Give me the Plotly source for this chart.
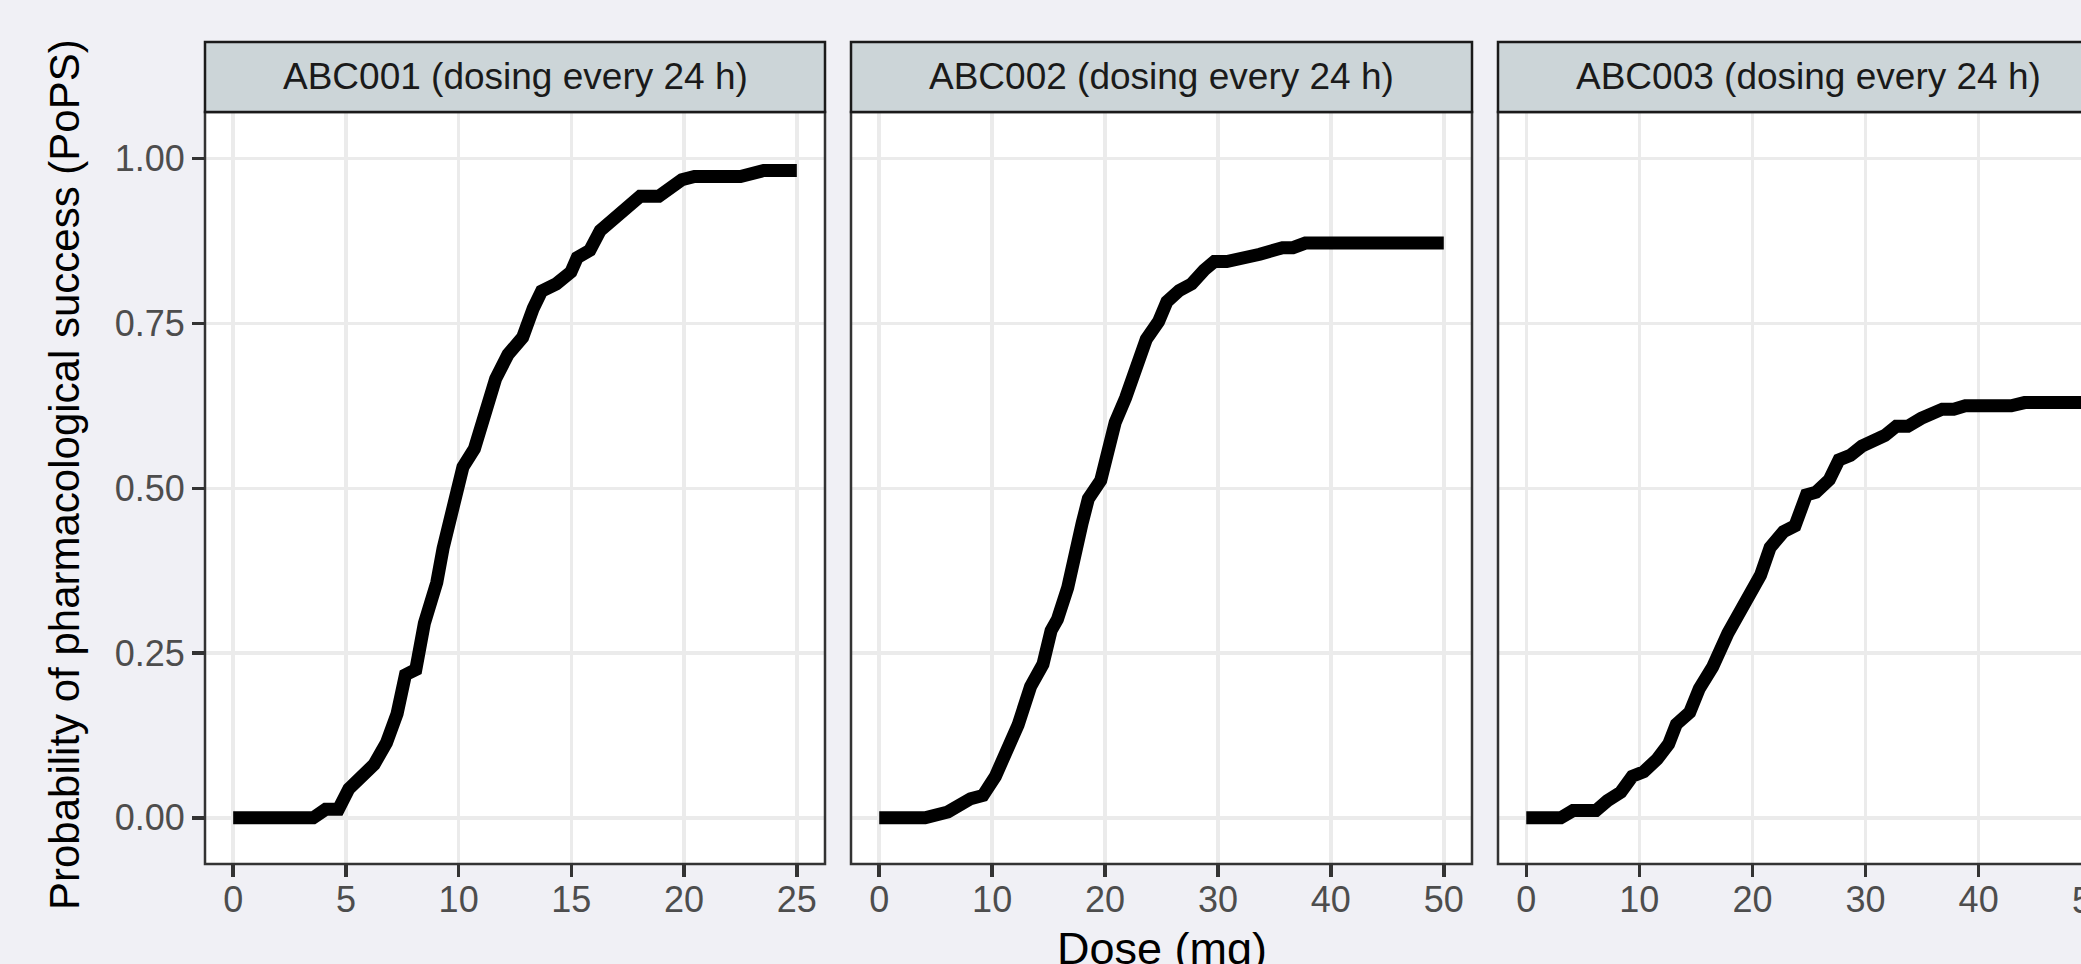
import plotly.graph_objects as go

# ------------------------------------------------------------------ data
panel_titles = [
    "ABC001 (dosing every 24 h)",
    "ABC002 (dosing every 24 h)",
    "ABC003 (dosing every 24 h)",
]

dose_abc001 = [0, 3.55, 4.1, 4.67, 5.13, 5.87, 6.25, 6.8, 7.27, 7.64, 8.1, 8.48,
               9.03, 9.31, 9.78, 10.19, 10.7, 11.17, 11.64, 12.19, 12.84, 13.31,
               13.68, 14.33, 14.98, 15.26, 15.82, 16.28, 16.84, 17.3, 17.86,
               18.05, 18.88, 19.35, 19.9, 20.46, 22.5, 23.53, 25.0]
pops_abc001 = [0, 0, 0.013, 0.013, 0.044, 0.066, 0.081, 0.114, 0.158, 0.217,
               0.225, 0.295, 0.357, 0.409, 0.471, 0.532, 0.56, 0.615, 0.666,
               0.703, 0.729, 0.773, 0.799, 0.81, 0.828, 0.85, 0.861, 0.891,
               0.907, 0.924, 0.935, 0.943, 0.943, 0.957, 0.968, 0.973, 0.973,
               0.982, 0.982]

dose_abc002 = [0, 4.06, 6.08, 8.09, 9.19, 10.29, 12.3, 13.4, 14.5, 15.22, 15.78,
               16.69, 17.97, 18.52, 19.62, 20.35, 20.9, 21.82, 23.65, 24.74,
               25.48, 26.57, 27.67, 28.77, 29.68, 30.78, 32.8, 33.71, 35.72,
               36.64, 37.74, 50]
pops_abc002 = [0, 0, 0.009, 0.029, 0.034, 0.063, 0.141, 0.199, 0.233, 0.284,
               0.301, 0.349, 0.447, 0.484, 0.512, 0.573, 0.6, 0.637, 0.726,
               0.753, 0.783, 0.8, 0.81, 0.831, 0.844, 0.844, 0.855, 0.855,
               0.865, 0.865, 0.872, 0.872]

dose_abc003 = [0, 3.05, 4.13, 6.16, 7.17, 8.36, 9.37, 10.39, 11.57, 12.59, 13.27,
               14.45, 15.3, 16.48, 17.83, 19.7, 20.71, 21.56, 22.74, 23.76,
               24.77, 25.62, 26.8, 27.65, 28.66, 29.68, 30.69, 31.71, 32.72,
               33.74, 34.92, 35.77, 36.79, 37.8, 38.82, 42.88, 44.06, 50]
pops_abc003 = [0, 0, 0.011, 0.011, 0.026, 0.039, 0.063, 0.07, 0.089, 0.112,
               0.142, 0.16, 0.196, 0.229, 0.28, 0.34, 0.368, 0.41, 0.434, 0.443,
               0.49, 0.494, 0.513, 0.543, 0.55, 0.564, 0.571, 0.58, 0.594,
               0.594, 0.606, 0.613, 0.62, 0.62, 0.625, 0.625, 0.63, 0.63]

x_ticks_abc001 = [0, 5, 10, 15, 20, 25]
x_ticks_abc002 = [0, 10, 20, 30, 40, 50]
x_ticks_abc003 = [0, 10, 20, 30, 40, 50]
y_ticks = [0.0, 0.25, 0.5, 0.75, 1.0]
y_tick_labels = ["0.00", "0.25", "0.50", "0.75", "1.00"]

x_title = "Dose (mg)"
y_title = "Probability of pharmacological success (PoPS)"

# ------------------------------------------------------------------ layout
W, H = 2081, 964
FONT = "Liberation Sans, Arial, Helvetica, sans-serif"
BG = "#F0F0F5"
STRIP_FILL = "#CCD5D8"
BORDER = "#333333"
GRID = "#EBEBEB"

panel_px_x = [(205, 825), (851, 1472), (1498, 2120)]   # full panel extents (px)
panel_px_y = (112, 864)
strip_px_y = (42, 112)
full_ranges = [(-1.25, 26.25), (-2.5, 52.5), (-2.5, 52.5)]
y_range = (-0.07, 1.0708)

doses = [dose_abc001, dose_abc002, dose_abc003]
pops = [pops_abc001, pops_abc002, pops_abc003]
xticks = [x_ticks_abc001, x_ticks_abc002, x_ticks_abc003]

fig = go.Figure()
shapes, annotations = [], []

def py(px):
    return 1 - px / H

for i in range(3):
    n = "" if i == 0 else str(i + 1)
    x0, x1 = panel_px_x[i]
    r0, r1 = full_ranges[i]
    vis_x1 = min(x1, W)
    vis_r1 = r0 + (r1 - r0) * (vis_x1 - x0) / (x1 - x0)

    fig.add_trace(go.Scatter(
        x=doses[i], y=pops[i], mode="lines",
        line=dict(color="black", width=13),
        xaxis="x" + n, yaxis="y" + n, showlegend=False, hoverinfo="skip",
    ))

    fig.layout["xaxis" + n] = dict(
        domain=[x0 / W, vis_x1 / W], range=[r0, vis_r1], anchor="y" + n,
        tickmode="array", tickvals=xticks[i], ticktext=[str(v) for v in xticks[i]],
        ticks="outside", ticklen=12, tickwidth=3.5, tickcolor=BORDER,
        ticklabelstandoff=-8,
        showgrid=True, gridcolor=GRID, gridwidth=3.5, zeroline=False,
        showline=False, tickfont=dict(family=FONT, size=36, color="#4D4D4D"),
        fixedrange=True,
    )
    fig.layout["yaxis" + n] = dict(
        domain=[py(panel_px_y[1]), py(panel_px_y[0])], range=list(y_range),
        anchor="x" + n, tickmode="array", tickvals=y_ticks, ticktext=y_tick_labels,
        showticklabels=(i == 0), ticks="outside" if i == 0 else "",
        ticklen=12, tickwidth=3.5, tickcolor=BORDER,
        showgrid=True, gridcolor=GRID, gridwidth=3.5, zeroline=False,
        showline=False, tickfont=dict(family=FONT, size=36, color="#4D4D4D"),
        fixedrange=True,
    )

    # panel border
    shapes.append(dict(type="rect", xref="paper", yref="paper",
                       x0=x0 / W, x1=x1 / W, y0=py(panel_px_y[1]), y1=py(panel_px_y[0]),
                       line=dict(color=BORDER, width=2.5), fillcolor="rgba(0,0,0,0)",
                       layer="above"))
    # strip
    shapes.append(dict(type="rect", xref="paper", yref="paper",
                       x0=x0 / W, x1=x1 / W, y0=py(strip_px_y[1]), y1=py(strip_px_y[0]),
                       line=dict(color="#1A1A1A", width=2.5), fillcolor=STRIP_FILL,
                       layer="above"))
    annotations.append(dict(text=panel_titles[i], xref="paper", yref="paper",
                            x=(x0 + x1) / 2 / W, y=py(sum(strip_px_y) / 2),
                            xanchor="center", yanchor="middle", showarrow=False,
                            font=dict(family=FONT, size=37, color="#1A1A1A")))

    # tick labels that fall beyond the visible (cropped) region
    for v in xticks[i]:
        if v > vis_r1:
            xpx = x0 + (v - r0) / (r1 - r0) * (x1 - x0)
            annotations.append(dict(text=str(v), xref="paper", yref="paper",
                                    x=xpx / W, y=py(900), xanchor="center",
                                    yanchor="middle", showarrow=False,
                                    font=dict(family=FONT, size=36, color="#4D4D4D")))

annotations.append(dict(text=y_title, xref="paper", yref="paper",
                        x=64 / W, y=py(sum(panel_px_y) / 2 - 13), textangle=-90,
                        xanchor="center", yanchor="middle", showarrow=False,
                        font=dict(family=FONT, size=42, color="black")))
annotations.append(dict(text=x_title, xref="paper", yref="paper",
                        x=(panel_px_x[1][0] + panel_px_x[1][1]) / 2 / W, y=py(948),
                        xanchor="center", yanchor="middle", showarrow=False,
                        font=dict(family=FONT, size=45, color="black")))

fig.update_layout(
    width=W, height=H, autosize=False,
    margin=dict(l=0, r=0, t=0, b=0, pad=0),
    paper_bgcolor=BG, plot_bgcolor="white",
    shapes=shapes, annotations=annotations, showlegend=False,
    font=dict(family=FONT),
)

fig.write_html(
    "out.html",
    config={"displayModeBar": False, "staticPlot": True},
    post_script="document.body.style.margin='0';document.body.style.overflow='hidden';",
)
